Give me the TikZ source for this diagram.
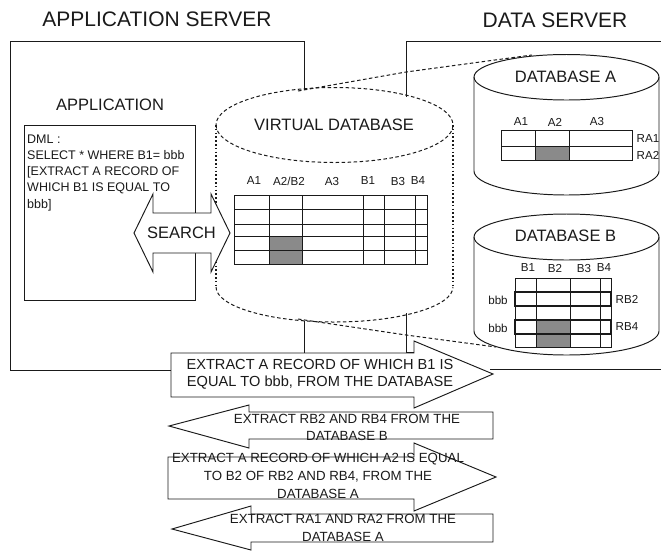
\documentclass[tikz,border=0pt]{standalone}
\usepackage{fontspec}
\setmainfont{Liberation Sans}
\tikzset{
  x=1pt,y=-1pt,
  inkline/.style={draw=ink,line width=0.98pt},
  thinline/.style={draw=ink,line width=0.85pt},
  thickrow/.style={draw=ink,line width=2.3pt},
  dbline/.style={draw=ink,line width=1pt,dash pattern=on 3.5pt off 2.5pt},
  dotside/.style={draw=ink,line width=1.2pt,dash pattern=on 1.6pt off 2.2pt},
  bigarrow/.style={draw=ink,line width=0.95pt,fill=white,line join=miter},
  shade/.style={fill=shadecell,draw=none},
  titletext/.style={font=\fontsize{21}{23}\selectfont,text=ink,inner sep=0pt},
  midtext/.style={font=\fontsize{16.5}{18}\selectfont,text=ink,inner sep=0pt},
  coltext/.style={font=\fontsize{11.6}{13}\selectfont,text=ink,inner sep=0pt},
  bodytext/.style={font=\fontsize{12.5}{14}\selectfont,text=ink,inner sep=0pt},
  arrowtext/.style={font=\fontsize{13.3}{15}\selectfont,text=ink,inner sep=0pt},
  arrowbig/.style={font=\fontsize{14.6}{16}\selectfont,text=ink,inner sep=0pt},
}
\definecolor{ink}{HTML}{1A1A1A}
\definecolor{shadecell}{HTML}{8A8A8A}
\begin{document}
\begin{tikzpicture}
\useasboundingbox (0,0) rectangle (661,550);
\fill[white] (0,0) rectangle (661,550);

% titles
\node[titletext] (tApp) at (157,19) {APPLICATION SERVER};
\node[titletext] (tData) at (555,20) {DATA SERVER};

% server frames
\draw[inkline] (304,90) -- (304,41) -- (10,41) -- (10,370) -- (171,370);
\draw[inkline] (304,321) -- (304,353);
\draw[inkline] (661,41) -- (406,41) -- (406,97);
\draw[inkline] (406,313) -- (406,352) -- (414,352);
\draw[inkline] (490,369) -- (661,369);

% application box
\node[midtext] (tApplication) at (110,105) {APPLICATION};
\draw[inkline] (24,125) rectangle (195,300);
\node[bodytext,anchor=west] (dml1) at (27,139) {DML :};
\node[bodytext,anchor=west] (dml2) at (27,155) {SELECT * WHERE B1= bbb};
\node[bodytext,anchor=west] (dml3) at (27,172) {[EXTRACT A RECORD OF};
\node[bodytext,anchor=west] (dml4) at (27,188) {WHICH B1 IS EQUAL TO};
\node[bodytext,anchor=west] (dml5) at (27,205) {bbb]};

% dashed links to data server
\draw[dbline] (298,91) -- (406,72) -- (532,55);
\draw[dbline] (298,319) -- (406,335) -- (496,347);

% virtual database
\draw[dbline] (216,125) arc[start angle=180,end angle=-180,x radius=118.5,y radius=37.5];
\draw[dotside] (216,125) -- (216,287);
\draw[dotside] (453,125) -- (453,287);
\draw[dbline] (216,287) arc[start angle=180,end angle=0,x radius=118.5,y radius=35];
\node[midtext] (tVirtual) at (334,125) {VIRTUAL DATABASE};

% virtual table
\fill[shade] (270,237) rectangle (302,250);
\fill[shade] (270,251) rectangle (302,264);
\draw[thinline] (234.5,195.5) rectangle (427,264.5);
\foreach \yy in {209,224,236.5,250.5} \draw[thinline] (234.5,\yy) -- (427,\yy);
\foreach \xx in {269.5,302.5,363.7,384.5,415} \draw[thinline] (\xx,195.5) -- (\xx,264.5);
\node[coltext] (vA1) at (254,181) {A1};
\node[coltext] (vA2) at (289,181) {A2/B2};
\node[coltext] (vA3) at (332,181) {A3};
\node[coltext] (vB1) at (368,181) {B1};
\node[coltext] (vB3) at (398,181) {B3};
\node[coltext] (vB4) at (418,181) {B4};

% search arrow
\draw[bigarrow] (134,233) -- (153,194) -- (153,213) -- (211,213) -- (211,194) -- (230,233) -- (211,272) -- (211,253) -- (153,253) -- (153,272) -- cycle;
\node[midtext] (tSearch) at (181.5,233) {SEARCH};

% database A
\draw[inkline,fill=white] (474,77) -- (474,171) arc[start angle=180,end angle=0,x radius=92.5,y radius=24] -- (659,77) arc[start angle=0,end angle=-180,x radius=92.5,y radius=22.5] -- cycle;
\draw[inkline] (474,77) arc[start angle=180,end angle=0,x radius=92.5,y radius=23];
\node[midtext] (tDbA) at (565.5,77) {DATABASE A};
\fill[shade] (536,147) rectangle (570,160);
\draw[thinline] (501.7,130) rectangle (632,160.5);
\draw[thinline] (501.7,146) -- (632,146);
\foreach \xx in {535.7,569.7} \draw[thinline] (\xx,130) -- (\xx,160.5);
\node[coltext] (aA1) at (521,122) {A1};
\node[coltext] (aA2) at (555,122) {A2};
\node[coltext] (aA3) at (597,122) {A3};
\node[coltext] (RA1) at (648,139) {RA1};
\node[coltext] (RA2) at (648,155) {RA2};

% database B
\draw[inkline,fill=white] (474,237) -- (474,331) arc[start angle=180,end angle=0,x radius=92.5,y radius=24] -- (659,237) arc[start angle=0,end angle=-180,x radius=92.5,y radius=23] -- cycle;
\draw[inkline] (474,237) arc[start angle=180,end angle=0,x radius=92.5,y radius=23];
\node[midtext] (tDbB) at (565.5,236) {DATABASE B};
\fill[shade] (537,321) rectangle (570,333);
\fill[shade] (537,334) rectangle (570,347);
\draw[thinline] (515,278) rectangle (611,347);
\foreach \yy in {292,306,320,333.5} \draw[thinline] (515,\yy) -- (611,\yy);
\foreach \xx in {536,570,600} \draw[thinline] (\xx,278) -- (\xx,347);
\draw[thickrow] (515,292) rectangle (611,306);
\draw[thickrow] (515,320) rectangle (611,334);
\node[coltext] (bB1) at (528,268) {B1};
\node[coltext] (bB2) at (555,268) {B2};
\node[coltext] (bB3) at (584,268) {B3};
\node[coltext] (bB4) at (604,268) {B4};
\node[coltext] (bbb1) at (498,300) {bbb};
\node[coltext] (bbb2) at (498,328) {bbb};
\node[coltext] (RB2) at (627,299) {RB2};
\node[coltext] (RB4) at (627,327) {RB4};

% message arrows
\draw[bigarrow] (171,353) -- (414,353) -- (414,341) -- (493,374) -- (414,408) -- (414,397) -- (171,397) -- cycle;
\node[arrowbig] (m1a) at (320,364) {EXTRACT A RECORD OF WHICH B1 IS};
\node[arrowbig] (m1b) at (320,383) {EQUAL TO bbb, FROM THE DATABASE};

\draw[bigarrow] (169,426) -- (249,405) -- (249,412) -- (493,412) -- (493,439) -- (249,439) -- (249,448) -- cycle;
\node[arrowtext] (m2a) at (347,419) {EXTRACT RB2 AND RB4 FROM THE};
\node[arrowtext] (m2b) at (347,436) {DATABASE B};

\draw[bigarrow] (168,457) -- (414,457) -- (414,443) -- (496,477) -- (414,511) -- (414,499) -- (168,499) -- cycle;
\node[arrowtext] (m3a) at (318,459) {EXTRACT A RECORD OF WHICH A2 IS EQUAL};
\node[arrowtext] (m3b) at (318,477) {TO B2 OF RB2 AND RB4, FROM THE};
\node[arrowtext] (m3c) at (318,494) {DATABASE A};

\draw[bigarrow] (172,529) -- (251,506) -- (251,514) -- (493,514) -- (493,542) -- (251,542) -- (251,550) -- cycle;
\node[arrowtext] (m4a) at (343,519) {EXTRACT RA1 AND RA2 FROM THE};
\node[arrowtext] (m4b) at (343,537) {DATABASE A};
\end{tikzpicture}
\end{document}
